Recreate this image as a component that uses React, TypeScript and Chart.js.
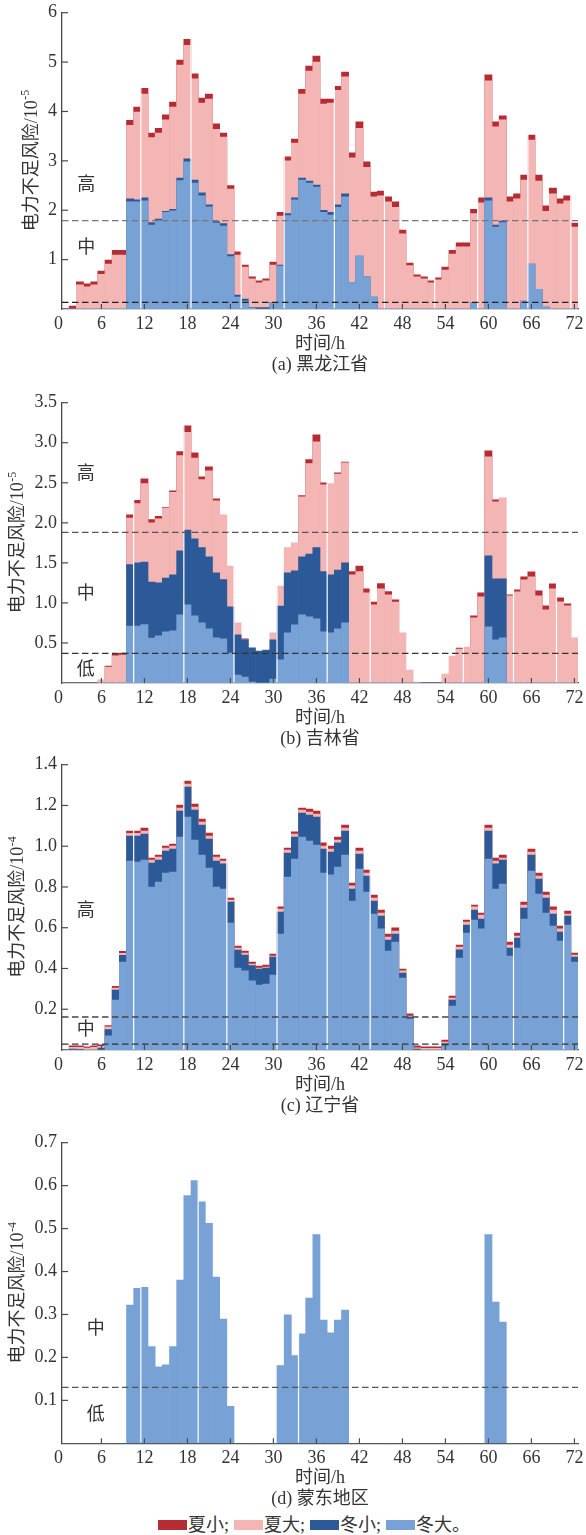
import React, { useEffect, useRef } from 'react';
import { Chart, registerables } from 'chart.js';

Chart.register(...registerables);

const FONT = '"Liberation Serif", "Noto Sans CJK SC", serif';
const TEXT = '#333333';
const AXIS = '#4a4a4a';
const RED = '#B52C33';
const PINK = '#F4B5B5';
const DBLUE = '#2C5997';
const LBLUE = '#78A2D6';

const HOURS = Array.from({ length: 72 }, (_, i) => i + 1);
const X_TICKS = [0, 6, 12, 18, 24, 30, 36, 42, 48, 54, 60, 66, 72];
const LEGEND = ['夏小;', '夏大;', '冬小;', '冬大。'];
const LEGEND_COLORS = [RED, PINK, DBLUE, LBLUE];

// (a) 黑龙江省 — displayed top of each layer, ×10^-5
const hljSummerSmall = [0, 0.06, 0.55, 0.51, 0.55, 0.77, 0.99, 1.19, 1.19, 3.82, 4.09, 4.47, 3.56, 3.66, 3.93, 4.19, 5.04, 5.46, 4.76, 4.27, 4.35, 3.75, 3.56, 2.5, 1.16, 0.89, 0.65, 0.57, 0.61, 0.95, 1.96, 3.08, 3.44, 4.45, 4.92, 5.12, 4.25, 4.25, 4.51, 4.8, 3.16, 3.79, 2.98, 2.37, 2.39, 2.27, 2.17, 1.6, 0.93, 0.69, 0.65, 0.57, 0.63, 0.85, 1.19, 1.34, 1.34, 2.02, 2.25, 4.74, 3.79, 3.91, 2.27, 2.33, 2.71, 3.52, 2.71, 2.09, 2.45, 2.23, 2.29, 1.74];
const hljSummerLarge = [0, 0, 0.49, 0.45, 0.49, 0.7, 0.91, 1.09, 1.09, 3.72, 3.99, 4.35, 3.47, 3.56, 3.83, 4.09, 4.94, 5.34, 4.66, 4.17, 4.25, 3.64, 3.48, 2.43, 1.09, 0.85, 0.61, 0.53, 0.57, 0.89, 1.88, 3.0, 3.36, 4.35, 4.82, 5.0, 4.15, 4.17, 4.43, 4.7, 3.06, 3.66, 2.87, 2.27, 2.29, 2.17, 2.06, 1.52, 0.88, 0.65, 0.61, 0.53, 0.59, 0.79, 1.11, 1.26, 1.26, 1.93, 2.15, 4.62, 3.69, 3.83, 2.17, 2.23, 2.61, 3.42, 2.59, 1.98, 2.33, 2.13, 2.19, 1.66];
const hljWinterSmall = [0, 0, 0, 0, 0, 0, 0, 0, 0, 2.23, 2.21, 2.25, 1.75, 1.82, 1.98, 2.02, 2.65, 3.04, 2.61, 2.35, 2.11, 1.77, 1.73, 1.1, 0.28, 0.2, 0.03, 0.03, 0.03, 0.13, 0.89, 1.93, 2.25, 2.65, 2.59, 2.51, 2.0, 1.96, 2.11, 2.33, 0.53, 1.07, 0.65, 0.24, 0, 0, 0, 0, 0, 0, 0, 0, 0, 0, 0, 0, 0, 0.13, 0, 2.25, 1.7, 1.78, 0, 0, 0.16, 0.91, 0.4, 0.04, 0, 0, 0, 0];
const hljWinterLarge = [0, 0, 0, 0, 0, 0, 0, 0, 0, 2.17, 2.17, 2.19, 1.7, 1.79, 1.96, 1.99, 2.6, 2.98, 2.55, 2.29, 2.07, 1.74, 1.68, 1.06, 0.24, 0.16, 0.02, 0, 0, 0.13, 0.87, 1.89, 2.21, 2.61, 2.55, 2.47, 1.96, 1.9, 2.06, 2.27, 0.53, 1.07, 0.65, 0.24, 0, 0, 0, 0, 0, 0, 0, 0, 0, 0, 0, 0, 0, 0.13, 0, 2.19, 1.66, 1.75, 0, 0, 0.16, 0.91, 0.4, 0.04, 0, 0, 0, 0];

// (b) 吉林省, ×10^-5
const jlSummerSmall = [0, 0, 0, 0, 0, 0, 0.21, 0.36, 0.375, 2.1, 2.28, 2.55, 2.04, 2.08, 2.19, 2.4, 2.89, 3.21, 2.875, 2.575, 2.7, 2.3, 0, 0, 0, 0.55, 0, 0, 0, 0, 0, 0, 0, 2.34, 2.79, 3.1, 2.5, 0, 2.625, 2.76, 1.39, 1.46, 1.175, 1.01, 1.24, 1.14, 1.04, 0, 0, 0, 0, 0, 0, 0, 0, 0.4375, 0, 0.8375, 1.125, 2.9, 2.2875, 0, 1.1, 1.1625, 1.325, 1.3875, 1.15, 0.9625, 1.2375, 1.0625, 0.9875, 0];
const jlSummerLarge = [0, 0, 0, 0, 0, 0.04, 0.2, 0.34, 0.35, 2.06, 2.24, 2.49, 2.0, 2.05, 2.18, 2.38, 2.84, 3.13, 2.81, 2.54, 2.65, 2.275, 2.1, 1.46, 0.75, 0.54, 0, 0, 0, 0.625, 1.21, 1.69, 1.75, 2.325, 2.74, 3.01, 2.475, 2.49, 2.61, 2.75, 1.35, 1.39, 1.125, 0.975, 1.175, 1.1, 1.01, 0.625, 0.1625, 0.0125, 0, 0, 0, 0.1125, 0.3375, 0.425, 0.45, 0.8125, 1.075, 2.825, 2.2625, 2.3125, 1.0875, 1.1375, 1.2875, 1.325, 1.0875, 0.9125, 1.175, 1.0125, 0.9625, 0.5625];
const jlWinterSmall = [0, 0, 0, 0, 0, 0, 0, 0, 0, 1.48, 1.5, 1.51, 1.26, 1.25, 1.31, 1.35, 1.65, 1.91, 1.8, 1.69, 1.575, 1.375, 1.29, 0.95, 0.6, 0.54, 0.44, 0.4, 0.41, 0.54, 0.96, 1.375, 1.4, 1.575, 1.61, 1.69, 1.39, 1.35, 1.41, 1.5, 0, 0, 0, 0, 0, 0, 0, 0, 0, 0, 0, 0, 0, 0, 0, 0, 0, 0, 0, 1.5875, 1.3, 1.3, 0, 0, 0, 0, 0, 0, 0, 0, 0, 0];
const jlWinterLarge = [0, 0, 0, 0, 0, 0, 0, 0, 0, 0.71, 0.71, 0.73, 0.56, 0.59, 0.64, 0.65, 0.85, 0.975, 0.84, 0.75, 0.675, 0.5625, 0.55, 0.375, 0.1, 0.075, 0.01, 0, 0, 0.05, 0.29, 0.625, 0.725, 0.85, 0.825, 0.8, 0.64, 0.625, 0.675, 0.75, 0, 0, 0, 0, 0, 0, 0, 0, 0, 0, 0, 0, 0, 0, 0, 0, 0, 0, 0, 0.7, 0.5375, 0.5625, 0, 0, 0, 0, 0, 0, 0, 0, 0, 0];

// (c) 辽宁省, ×10^-4
const lnSummerSmall = [0, 0.02, 0.02, 0.015, 0.02, 0.025, 0.12, 0.312, 0.484, 1.074, 1.074, 1.089, 0.942, 0.957, 1.001, 1.011, 1.202, 1.32, 1.207, 1.133, 1.065, 0.957, 0.937, 0.746, 0.51, 0.486, 0.432, 0.412, 0.417, 0.471, 0.702, 0.991, 1.07, 1.187, 1.182, 1.173, 1.016, 1.001, 1.045, 1.104, 0.819, 0.991, 0.883, 0.76, 0.687, 0.569, 0.599, 0.397, 0.177, 0.02, 0.015, 0.015, 0.015, 0.049, 0.265, 0.515, 0.638, 0.711, 0.672, 1.104, 0.942, 0.957, 0.53, 0.574, 0.726, 0.986, 0.868, 0.775, 0.702, 0.608, 0.682, 0.476];
const lnSummerLarge = [0, 0.013, 0.013, 0.01, 0.013, 0.018, 0.114, 0.304, 0.474, 1.063, 1.063, 1.074, 0.932, 0.947, 0.991, 1.001, 1.187, 1.305, 1.192, 1.119, 1.05, 0.947, 0.927, 0.736, 0.5, 0.476, 0.422, 0.402, 0.407, 0.461, 0.692, 0.981, 1.06, 1.177, 1.168, 1.158, 1.001, 0.986, 1.03, 1.089, 0.805, 0.976, 0.868, 0.746, 0.672, 0.554, 0.584, 0.388, 0.167, 0.011, 0.008, 0.008, 0.008, 0.039, 0.255, 0.505, 0.628, 0.702, 0.662, 1.089, 0.927, 0.942, 0.515, 0.559, 0.711, 0.971, 0.854, 0.76, 0.687, 0.594, 0.667, 0.466];
const lnWinterSmall = [0, 0.005, 0.003, 0, 0, 0.01, 0.1, 0.294, 0.464, 1.05, 1.05, 1.06, 0.917, 0.932, 0.976, 0.986, 1.173, 1.29, 1.177, 1.104, 1.035, 0.927, 0.913, 0.726, 0.49, 0.466, 0.414, 0.397, 0.402, 0.456, 0.677, 0.966, 1.045, 1.163, 1.153, 1.143, 0.986, 0.971, 1.016, 1.074, 0.79, 0.962, 0.854, 0.731, 0.657, 0.54, 0.569, 0.378, 0.162, 0.005, 0, 0, 0, 0.029, 0.245, 0.491, 0.613, 0.687, 0.643, 1.074, 0.913, 0.932, 0.5, 0.549, 0.697, 0.957, 0.839, 0.746, 0.667, 0.579, 0.657, 0.456];
const lnWinterLarge = [0, 0, 0, 0, 0, 0, 0.069, 0.245, 0.432, 0.927, 0.922, 0.932, 0.8, 0.824, 0.868, 0.873, 1.045, 1.143, 1.03, 0.957, 0.893, 0.8, 0.79, 0.623, 0.402, 0.389, 0.339, 0.319, 0.324, 0.368, 0.569, 0.849, 0.937, 1.045, 1.025, 1.006, 0.868, 0.859, 0.898, 0.957, 0.731, 0.888, 0.775, 0.667, 0.594, 0.486, 0.53, 0.353, 0.152, 0, 0, 0, 0, 0.02, 0.216, 0.451, 0.574, 0.638, 0.594, 0.937, 0.79, 0.814, 0.461, 0.5, 0.643, 0.878, 0.765, 0.672, 0.608, 0.535, 0.613, 0.432];

// (d) 蒙东地区, ×10^-4 (only 冬大 is non-zero)
const mdWinterLarge = [0, 0, 0, 0, 0, 0, 0, 0, 0, 0.322, 0.361, 0.363, 0.225, 0.178, 0.183, 0.225, 0.38, 0.577, 0.612, 0.5625, 0.512, 0.387, 0.289, 0.086, 0, 0, 0, 0, 0, 0, 0.181, 0.299, 0.204, 0.255, 0.338, 0.486, 0.287, 0.257, 0.287, 0.31, 0, 0, 0, 0, 0, 0, 0, 0, 0, 0, 0, 0, 0, 0, 0, 0, 0, 0, 0, 0.486, 0.329, 0.282, 0, 0, 0, 0, 0, 0, 0, 0, 0, 0];

const yTicksA = [1, 2, 3, 4, 5, 6];
const yTicksB = [0.5, 1.0, 1.5, 2.0, 2.5, 3.0, 3.5];
const yTicksC = [0.2, 0.4, 0.6, 0.8, 1.0, 1.2, 1.4];
const yTicksD = [0.1, 0.2, 0.3, 0.4, 0.5, 0.6, 0.7];

type Series = { label: string; color: string; data: number[]; order: number };
type Cfg = {
  top: number; height: number; chartTop: number; chartBottom: number;
  yMax: number; yTicks: number[]; yDecimals: number; exponent: string; caption: string;
  series: Series[];
  thresholds: { value: number; color: string }[];
  zones: { text: string; x: number; y: number }[];
  seams: number[];
};

const mk = (ss: number[] | null, sl: number[] | null, ws: number[] | null, wl: number[] | null): Series[] => {
  const out: Series[] = [];
  if (ss) out.push({ label: '夏小', color: RED, data: ss, order: 3 });
  if (sl) out.push({ label: '夏大', color: PINK, data: sl, order: 2 });
  if (ws) out.push({ label: '冬小', color: DBLUE, data: ws, order: 1 });
  if (wl) out.push({ label: '冬大', color: LBLUE, data: wl, order: 0 });
  return out;
};

const PANELS: Cfg[] = [
  {
    top: 0, height: 380, chartTop: 12.7, chartBottom: 309,
    yMax: 6, yTicks: yTicksA, yDecimals: 0, exponent: '-5', caption: '(a) 黑龙江省',
    series: mk(hljSummerSmall, hljSummerLarge, hljWinterSmall, hljWinterLarge),
    thresholds: [{ value: 1.79, color: '#777777' }, { value: 0.135, color: '#222222' }],
    zones: [{ text: '高', x: 3.9, y: 2.5 }, { text: '中', x: 3.9, y: 1.23 }],
    seams: [11.5, 18.5, 25.5, 31.5, 38.5, 45.5, 52.5, 58.5, 65.5, 71.5],
  },
  {
    top: 385, height: 365, chartTop: 17.7, chartBottom: 298,
    yMax: 3.5, yTicks: yTicksB, yDecimals: 1, exponent: '-5', caption: '(b) 吉林省',
    series: mk(jlSummerSmall, jlSummerLarge, jlWinterSmall, jlWinterLarge),
    thresholds: [{ value: 1.88, color: '#555555' }, { value: 0.37, color: '#333333' }],
    zones: [{ text: '高', x: 3.8, y: 2.61 }, { text: '中', x: 3.8, y: 1.11 }, { text: '低', x: 3.8, y: 0.16 }],
    seams: [10.5, 17.5, 24.5, 30.5, 37.5, 43.5, 56.5, 63.5, 69.5],
  },
  {
    top: 750, height: 375, chartTop: 14.7, chartBottom: 300,
    yMax: 1.4, yTicks: yTicksC, yDecimals: 1, exponent: '-4', caption: '(c) 辽宁省',
    series: mk(lnSummerSmall, lnSummerLarge, lnWinterSmall, lnWinterLarge),
    thresholds: [{ value: 0.162, color: '#444444' }, { value: 0.029, color: '#333333' }],
    zones: [{ text: '高', x: 3.8, y: 0.679 }, { text: '中', x: 3.8, y: 0.098 }],
    seams: [10.5, 17.5, 23.5, 30.5, 37.5, 43.5, 57.5, 63.5, 70.5],
  },
  {
    top: 1125, height: 385, chartTop: 17.7, chartBottom: 318.3,
    yMax: 0.7, yTicks: yTicksD, yDecimals: 1, exponent: '-4', caption: '(d) 蒙东地区',
    series: mk(null, null, null, mdWinterLarge),
    thresholds: [{ value: 0.13, color: '#555555' }],
    zones: [{ text: '中', x: 5.2, y: 0.265 }, { text: '低', x: 5.2, y: 0.066 }],
    seams: [11.5, 19.5, 33.5],
  },
];

function makeOverlay(cfg: Cfg) {
  return {
    id: 'overlay',
    afterDatasetsDraw(chart: any) {
      const { ctx, chartArea: a, scales } = chart;
      const x = scales.x;
      ctx.save();
      ctx.strokeStyle = '#ffffff';
      ctx.lineWidth = 1.2;
      for (const s of cfg.seams) {
        const px = x.getPixelForValue(s);
        ctx.beginPath();
        ctx.moveTo(px, a.top);
        ctx.lineTo(px, a.bottom - 0.8);
        ctx.stroke();
      }
      ctx.restore();
    },
    afterDraw(chart: any) {
      const { ctx, chartArea: a, scales } = chart;
      const x = scales.x;
      const y = scales.y;
      ctx.save();
      // threshold dashed lines
      ctx.lineWidth = 1.3;
      ctx.setLineDash([6.5, 3.5]);
      for (const t of cfg.thresholds) {
        const py = y.getPixelForValue(t.value);
        ctx.strokeStyle = t.color;
        ctx.beginPath();
        ctx.moveTo(a.left, py);
        ctx.lineTo(a.right, py);
        ctx.stroke();
      }
      ctx.setLineDash([]);
      // inward tick marks
      ctx.strokeStyle = AXIS;
      ctx.lineWidth = 1.2;
      for (const v of X_TICKS) {
        if (v < x.min) continue;
        const px = x.getPixelForValue(v);
        ctx.beginPath();
        ctx.moveTo(px, a.bottom);
        ctx.lineTo(px, a.bottom - 5);
        ctx.stroke();
      }
      for (const v of cfg.yTicks) {
        const py = y.getPixelForValue(v);
        ctx.beginPath();
        ctx.moveTo(a.left, py);
        ctx.lineTo(a.left + 6, py);
        ctx.stroke();
      }
      // zone labels
      ctx.fillStyle = TEXT;
      ctx.font = `18px ${FONT}`;
      ctx.textAlign = 'center';
      ctx.textBaseline = 'middle';
      for (const z of cfg.zones) {
        ctx.fillText(z.text, x.getPixelForValue(z.x), y.getPixelForValue(z.y));
      }
      // x title and caption
      const cx = (a.left + a.right) / 2;
      ctx.fillText('时间/h', cx, a.bottom + 35);
      ctx.fillText(cfg.caption, cx, a.bottom + 56);
      // y title with superscript
      let w = 0;
      for (const v of cfg.yTicks) {
        w = Math.max(w, ctx.measureText(v.toFixed(cfg.yDecimals)).width);
      }
      const tx = a.left - 5 - w - 16;
      const ty = (a.top + a.bottom) / 2;
      const main = '电力不足风险/10';
      const w1 = ctx.measureText(main).width;
      ctx.font = `12px ${FONT}`;
      const w2 = ctx.measureText(cfg.exponent).width;
      ctx.translate(tx, ty);
      ctx.rotate(-Math.PI / 2);
      const start = -(w1 + w2) / 2;
      ctx.textAlign = 'left';
      ctx.font = `18px ${FONT}`;
      ctx.fillText(main, start, 0);
      ctx.font = `12px ${FONT}`;
      ctx.fillText(cfg.exponent, start + w1 + 0.5, -6);
      ctx.restore();
    },
  };
}

function Panel({ cfg }: { cfg: Cfg }) {
  const ref = useRef<HTMLCanvasElement | null>(null);
  useEffect(() => {
    if (!ref.current) return;
    const tickFont = { family: FONT, size: 18 };
    const chart = new Chart(ref.current, {
      type: 'bar',
      data: {
        labels: HOURS,
        datasets: cfg.series.map((s) => ({
          label: s.label,
          data: s.data,
          backgroundColor: s.color,
          borderWidth: 0,
          order: s.order,
          categoryPercentage: 1,
          barPercentage: 1,
        })),
      },
      options: {
        responsive: false,
        animation: false,
        events: [],
        layout: { padding: { top: cfg.chartTop, right: 8, bottom: 0, left: 0 } },
        plugins: { legend: { display: false }, tooltip: { enabled: false } },
        scales: {
          x: {
            type: 'linear',
            stacked: true,
            bounds: 'data',
            offset: false,
            min: 0.5,
            max: 72.5,
            afterBuildTicks: (s: any) => { s.ticks = X_TICKS.map((v) => ({ value: v })); },
            afterFit: (s: any) => { s.height = cfg.height - cfg.chartBottom; s.paddingLeft = 0; s.paddingRight = 0; },
            ticks: { font: tickFont, color: TEXT, padding: 4, maxRotation: 0, autoSkip: false, callback: (v: any) => String(v) },
            grid: { display: true, drawOnChartArea: false, drawTicks: false, offset: false },
            border: { display: true, color: AXIS, width: 1.3 },
          },
          y: {
            type: 'linear',
            stacked: false,
            bounds: 'data',
            min: 0,
            max: cfg.yMax,
            afterBuildTicks: (s: any) => { s.ticks = cfg.yTicks.map((v) => ({ value: v })); },
            afterFit: (s: any) => { s.width = 62; s.paddingTop = 0; s.paddingBottom = 0; },
            ticks: { font: tickFont, color: TEXT, padding: 5, callback: (v: any) => Number(v).toFixed(cfg.yDecimals) },
            grid: { display: true, drawOnChartArea: false, drawTicks: false },
            border: { display: true, color: AXIS, width: 1.3 },
          },
        },
      } as any,
      plugins: [makeOverlay(cfg)],
    });
    return () => chart.destroy();
  }, [cfg]);
  return (
    <canvas
      ref={ref}
      width={586}
      height={cfg.height}
      style={{ position: 'absolute', left: 0, top: cfg.top, width: 586, height: cfg.height }}
    />
  );
}

export default function App() {
  return (
    <div style={{ position: 'absolute', left: 0, top: 0, width: 586, height: 1535, background: '#ffffff', overflow: 'hidden' }}>
      {PANELS.map((p, i) => (
        <Panel key={i} cfg={p} />
      ))}
      <div
        style={{
          position: 'absolute', top: 1515, left: 158, height: 20, display: 'flex', alignItems: 'center',
          fontFamily: FONT, fontSize: 18, color: TEXT, whiteSpace: 'nowrap', lineHeight: '20px',
        }}
      >
        {LEGEND.map((t, i) => (
          <span key={t} style={{ display: 'flex', alignItems: 'center', marginRight: 5 }}>
            <span style={{ display: 'inline-block', width: 29, height: 9.5, background: LEGEND_COLORS[i], marginRight: 1 }} />
            <span>{t}</span>
          </span>
        ))}
      </div>
    </div>
  );
}
